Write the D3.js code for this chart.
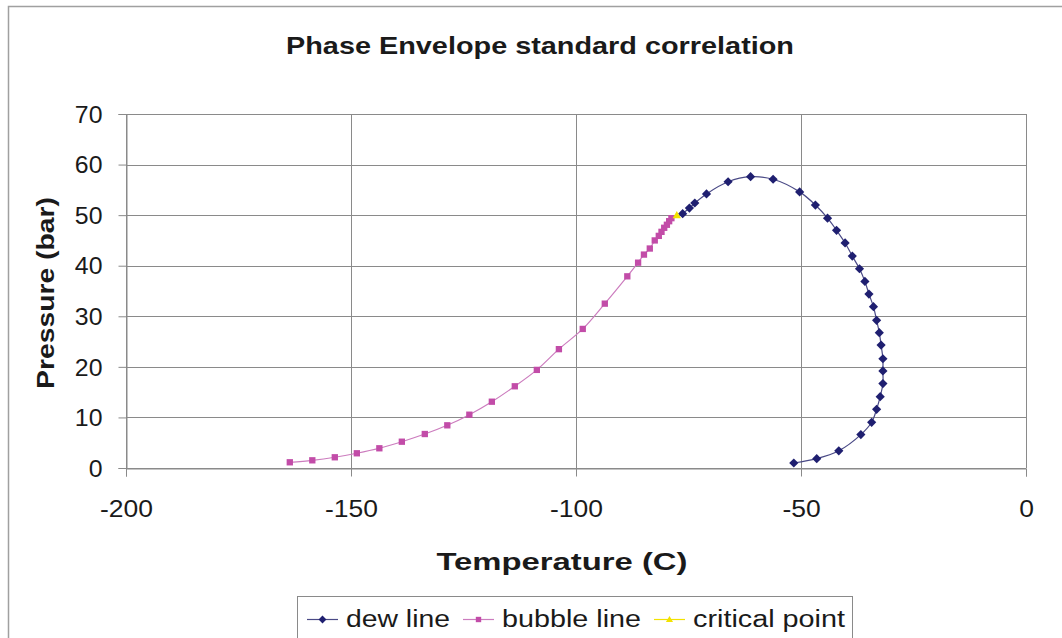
<!DOCTYPE html>
<html>
<head>
<meta charset="utf-8">
<script src="https://cdn.jsdelivr.net/npm/d3@7"></script>
<style>
  html, body { margin: 0; padding: 0; background: #ffffff; }
  svg { display: block; font-family: "Liberation Sans", Arial, sans-serif; }
</style>
</head>
<body>
<svg id="chart" width="1062" height="638"></svg>
<script>
// Dew line: temperature (C) and pressure (bar), from the critical region down the dew side
const dewT = [-76.3, -74.8, -73.6, -71.0, -66.2, -61.2, -56.2, -50.3, -46.8, -44.1, -42.1, -40.2,
  -38.6, -37.0, -35.8, -34.9, -33.9, -33.2, -32.6, -32.2, -31.8, -31.8, -31.8, -32.4, -33.2,
  -34.3, -36.7, -41.6, -46.5, -51.6];
const dewP = [50.3, 51.4, 52.4, 54.2, 56.6, 57.6, 57.1, 54.6, 52.0, 49.4, 47.0, 44.5,
  41.9, 39.4, 36.9, 34.4, 31.9, 29.2, 26.75, 24.3, 21.6, 19.2, 16.7, 14.1, 11.6,
  9.04, 6.6, 3.4, 1.84, 0.99];

// Bubble line: from low pressure up to the critical region
const bubbleT = [-163.6, -158.6, -153.6, -148.7, -143.7, -138.7, -133.6, -128.6, -123.7, -118.7,
  -113.6, -108.7, -103.8, -98.5, -93.6, -88.6, -86.2, -84.9, -83.6, -82.5, -81.6, -81.0, -80.4,
  -79.8, -79.3, -78.8];
const bubbleP = [1.13, 1.52, 2.12, 2.91, 3.90, 5.20, 6.72, 8.44, 10.54, 13.11,
  16.16, 19.4, 23.5, 27.5, 32.5, 37.9, 40.6, 42.2, 43.4, 45.0, 45.9, 46.7, 47.5,
  48.1, 48.8, 49.4];

// Critical point
const criticalT = [-77.6];
const criticalP = [50.0];

const xTicks = [-200, -150, -100, -50, 0];
const yTicks = [0, 10, 20, 30, 40, 50, 60, 70];

const seriesNames = ["dew line", "bubble line", "critical point"];

const svg = d3.select("#chart");

// Widen a text element horizontally by factor k (the chart uses a broad face)
function widen(sel, k) {
  sel.each(function () {
    const w = this.getComputedTextLength();
    d3.select(this).attr("textLength", w * k).attr("lengthAdjust", "spacingAndGlyphs");
  });
}

// Outer chart frame
svg.append("rect")
  .attr("x", 8.5).attr("y", 6.5)
  .attr("width", 1100).attr("height", 700)
  .attr("fill", "#ffffff")
  .attr("stroke", "#a0a0a0").attr("stroke-width", 1.5);

const x = d3.scaleLinear().domain([-200, 0]).range([126, 1026]);
const y = d3.scaleLinear().domain([0, 70]).range([468, 114]);

const gridColor = "#8a8a8a";

// Gridlines
const grid = svg.append("g");
grid.selectAll("line.h").data(yTicks).enter().append("line")
  .attr("x1", x(-200)).attr("x2", x(0))
  .attr("y1", d => Math.round(y(d)) + 0.5).attr("y2", d => Math.round(y(d)) + 0.5)
  .attr("stroke", gridColor).attr("stroke-width", 1);
grid.selectAll("line.v").data(xTicks).enter().append("line")
  .attr("y1", y(0)).attr("y2", y(70))
  .attr("x1", d => Math.round(x(d)) + 0.5).attr("x2", d => Math.round(x(d)) + 0.5)
  .attr("stroke", gridColor).attr("stroke-width", 1);

// Axes
const xAxis = d3.axisBottom(x).tickValues(xTicks).tickSize(8).tickPadding(24)
  .tickFormat(d => String(d));
const yAxis = d3.axisLeft(y).tickValues(yTicks).tickSize(8).tickPadding(16)
  .tickFormat(d => String(d));

const gx = svg.append("g").attr("transform", `translate(0,${Math.round(y(0)) + 0.5})`).call(xAxis);
const gy = svg.append("g").attr("transform", `translate(${Math.round(x(-200)) + 0.5},0)`).call(yAxis);

[gx, gy].forEach(g => {
  g.select(".domain").attr("stroke", gridColor);
  g.selectAll(".tick line").attr("stroke", gridColor);
  g.selectAll(".tick text")
    .attr("fill", "#1a1a1a")
    .style("font-size", "23px")
    .style("font-family", "'Liberation Sans', Arial, sans-serif");
});
gy.selectAll(".tick text").attr("dy", "0.36em");
widen(gx.selectAll(".tick text"), 1.15);
widen(gy.selectAll(".tick text"), 1.08);

// Series data
const dew = dewT.map((t, i) => ({ t, p: dewP[i] }));
const bubble = bubbleT.map((t, i) => ({ t, p: bubbleP[i] }));
const critical = criticalT.map((t, i) => ({ t, p: criticalP[i] }));

const line = d3.line().x(d => x(d.t)).y(d => y(d.p)).curve(d3.curveCatmullRom.alpha(0.5));

const dewColor = "#1f1f70";
const dewLine = "#4a4a86";
const bubbleColor = "#c24ca8";
const bubbleLine = "#cc7cbe";
const critColor = "#f2e200";

svg.append("path").datum(bubble).attr("d", line)
  .attr("fill", "none").attr("stroke", bubbleLine).attr("stroke-width", 1.2);
svg.append("path").datum(dew).attr("d", line)
  .attr("fill", "none").attr("stroke", dewLine).attr("stroke-width", 1.2);

const diamond = "M0,-4.6L4.6,0L0,4.6L-4.6,0Z";
const square = d3.symbol().type(d3.symbolSquare).size(40)();
const triangle = "M0,-4.2L4.2,3L-4.2,3Z";

svg.append("g").selectAll("path").data(bubble).enter().append("path")
  .attr("d", square)
  .attr("transform", d => `translate(${x(d.t)},${y(d.p)})`)
  .attr("fill", bubbleColor);

svg.append("g").selectAll("path").data(dew).enter().append("path")
  .attr("d", diamond)
  .attr("transform", d => `translate(${x(d.t)},${y(d.p)})`)
  .attr("fill", dewColor);

svg.append("g").selectAll("path").data(critical).enter().append("path")
  .attr("d", triangle)
  .attr("transform", d => `translate(${x(d.t)},${y(d.p)})`)
  .attr("fill", critColor);

// Titles
svg.append("text")
  .attr("x", 540).attr("y", 54)
  .attr("text-anchor", "middle")
  .style("font-size", "24px").style("font-weight", "bold")
  .attr("fill", "#1a1a1a")
  .attr("textLength", 508).attr("lengthAdjust", "spacingAndGlyphs")
  .text("Phase Envelope standard correlation");

svg.append("text")
  .attr("x", 562).attr("y", 570)
  .attr("text-anchor", "middle")
  .style("font-size", "24px").style("font-weight", "bold")
  .attr("fill", "#1a1a1a")
  .attr("textLength", 251).attr("lengthAdjust", "spacingAndGlyphs")
  .text("Temperature (C)");

svg.append("text")
  .attr("transform", "translate(54,293) rotate(-90)")
  .attr("text-anchor", "middle")
  .style("font-size", "24px").style("font-weight", "bold")
  .attr("fill", "#1a1a1a")
  .attr("textLength", 192).attr("lengthAdjust", "spacingAndGlyphs")
  .text("Pressure (bar)");

// Legend
const legend = svg.append("g");
legend.append("rect")
  .attr("x", 297.5).attr("y", 596.5)
  .attr("width", 555).attr("height", 60)
  .attr("fill", "#ffffff").attr("stroke", "#8a8a8a").attr("stroke-width", 1);

const legendItems = [
  { name: seriesNames[0], x0: 307, tx: 346, tw: 104, color: dewColor, lc: dewLine, sym: diamond },
  { name: seriesNames[1], x0: 463, tx: 502, tw: 139, color: bubbleColor, lc: bubbleLine, sym: square },
  { name: seriesNames[2], x0: 654, tx: 693, tw: 152, color: critColor, lc: critColor, sym: triangle }
];
const ly = 619;
legendItems.forEach(it => {
  legend.append("line")
    .attr("x1", it.x0).attr("x2", it.x0 + 31)
    .attr("y1", ly + 0.5).attr("y2", ly + 0.5)
    .attr("stroke", it.lc).attr("stroke-width", 1.2);
  legend.append("path")
    .attr("d", it.sym)
    .attr("transform", `translate(${it.x0 + 15.5},${ly + 0.5}) scale(0.85)`)
    .attr("fill", it.color);
  legend.append("text")
    .attr("x", it.tx).attr("y", ly + 8)
    .style("font-size", "23px")
    .attr("fill", "#1a1a1a")
    .attr("textLength", it.tw).attr("lengthAdjust", "spacingAndGlyphs")
    .text(it.name);
});
</script>
</body>
</html>
